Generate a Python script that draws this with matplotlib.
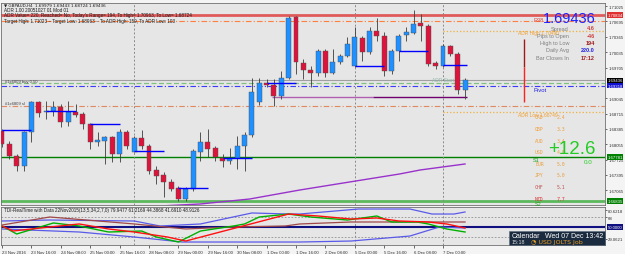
import matplotlib
matplotlib.use('Agg')
import matplotlib.pyplot as plt
from matplotlib.patches import Rectangle

plt.rcParams['font.family'] = ['Liberation Sans', 'DejaVu Sans']

# ---------------- data ----------------
opens  = [1.68340,1.68061,1.67803,1.67588,1.68319,1.68964,1.68749,1.68770,1.68856,1.68534,
          1.68749,1.68706,1.68491,1.68104,1.68125,1.68211,1.67846,1.68319,1.67889,1.68190,
          1.68018,1.67502,1.67394,1.67244,1.67115,1.66878,1.67093,1.67889,1.68104,1.67975,
          1.67760,1.67695,1.67760,1.68018,1.68254,1.68964,1.69372,1.69329,1.69093,1.69480,
          1.70791,1.69802,1.69652,1.69587,1.70060,1.69587,1.69824,1.69953,1.69738,1.70340,
          1.70039,1.70490,1.70383,1.69630,1.70060,1.70404,1.70447,1.70662,1.70598,1.69802,
          1.69738,1.70168,1.69996,1.69222]
highs  = [1.68383,1.68125,1.67846,1.68340,1.68985,1.68985,1.68985,1.68985,1.68921,1.68985,
          1.68921,1.68749,1.68512,1.68319,1.68233,1.68233,1.68383,1.68362,1.68233,1.68362,
          1.68061,1.67588,1.67459,1.67308,1.67158,1.67136,1.67953,1.68319,1.68383,1.68018,
          1.67846,1.67975,1.68233,1.68319,1.69480,1.69480,1.69458,1.69458,1.69630,1.70813,
          1.70813,1.69888,1.69738,1.70103,1.70103,1.70103,1.69996,1.70361,1.70576,1.70383,
          1.70576,1.70770,1.70469,1.70103,1.70426,1.70576,1.70942,1.70856,1.70641,1.69845,
          1.70211,1.70189,1.70039,1.69480]
lows   = [1.67996,1.67738,1.67480,1.67480,1.68104,1.68641,1.68598,1.68663,1.68426,1.68448,
          1.68641,1.68383,1.67953,1.68018,1.67631,1.67674,1.67674,1.67953,1.67889,1.67953,
          1.67416,1.67201,1.66921,1.67050,1.66835,1.66835,1.67050,1.67695,1.67781,1.67695,
          1.67566,1.67631,1.67523,1.67480,1.68211,1.68899,1.69286,1.68878,1.69028,1.69458,
          1.69566,1.69458,1.69286,1.69523,1.69501,1.69566,1.69781,1.69931,1.69716,1.69845,
          1.69996,1.70275,1.69523,1.69566,1.69845,1.70275,1.70426,1.70275,1.69738,1.69673,
          1.69716,1.69953,1.69136,1.69028]
closes = [1.68061,1.67803,1.67588,1.68319,1.68964,1.68727,1.68770,1.68856,1.68534,1.68749,
          1.68684,1.68491,1.68104,1.68147,1.68211,1.67846,1.68319,1.68018,1.68190,1.68018,
          1.67480,1.67373,1.67244,1.67093,1.66878,1.67093,1.67910,1.68104,1.67953,1.67781,
          1.67695,1.67760,1.68018,1.68254,1.69179,1.69372,1.69329,1.69093,1.69480,1.70770,
          1.69824,1.69652,1.69587,1.70060,1.69587,1.69824,1.69953,1.70211,1.70361,1.70039,
          1.70490,1.70383,1.69630,1.70060,1.70383,1.70469,1.70641,1.70598,1.69781,1.69738,
          1.70168,1.69996,1.69222,1.69436]

time_tick_idx = [0, 4, 8, 12, 16, 20, 24, 28, 32, 36, 40, 44, 48, 52, 56, 60]
time_labels = ["23 Nov 2016", "23 Nov 16:00", "24 Nov 08:00", "25 Nov 00:00", "25 Nov 16:00",
               "28 Nov 08:00", "29 Nov 00:00", "29 Nov 16:00", "30 Nov 08:00", "1 Dec 00:00",
               "1 Dec 16:00", "2 Dec 08:00", "5 Dec 00:00", "5 Dec 16:00", "6 Dec 08:00", "7 Dec 00:00"]
separator_idx = [18, 48, 60]

price_ticks = [1.71025, 1.70695, 1.70365, 1.70035, 1.69705, 1.69045, 1.68715,
               1.68385, 1.68055, 1.67725, 1.67395, 1.67065]

# daily open segments (start bar, price)
day_open_idx = [0, 6, 12, 18, 24, 30, 36, 48, 54, 60]
day_open_px = [1.68362, 1.68770, 1.68491, 1.67910, 1.67115, 1.67760, 1.69372, 1.69738, 1.70060, 1.69759]

# horizontal levels
adr_red = 1.70834
r3_level = 1.70705
adr_high = 1.70490
adr_low = 1.68749
bid = 1.69436
buy_level = 1.69372
pivot = 1.69318
sl_level = 1.68878
s1_level = 1.67781
s2_level = 1.66835
purple_level = 1.69071

# moving average knots
ma_idx = [21.5, 27, 33.7, 40.5, 47.3, 54.1, 56.9, 63]
ma_val = [1.66728, 1.66771, 1.66878, 1.67071, 1.67244, 1.67416, 1.67502, 1.67631]

# TDI sub-window
green_idx = [0, 2, 7, 10.5, 14.5, 19, 21, 24, 27, 31.5, 33, 35, 39, 42, 47, 51, 53, 56.5, 58, 60.5, 63]
green_val = [51.8, 37.3, 57.3, 51.8, 40.9, 42.7, 31.8, 22.7, 42.7, 51.8, 55.5, 68.2, 73.6, 68.2,
             62.7, 70.0, 59.1, 59.1, 55.5, 46.4, 40.9]
red_idx = [0, 1.5, 6.5, 10.5, 14.5, 18, 22.5, 25, 39, 43, 47.5, 51, 54, 58, 60.5, 63]
red_val = [51.8, 42.7, 50.0, 55.5, 46.4, 40.9, 31.8, 24.5, 73.6, 70.0, 64.5, 66.4, 60.9, 59.1, 55.5, 48.2]
upper_idx = [0, 6.5, 18, 21.5, 27, 34, 39, 40.5, 48.5, 55.5, 58.5, 61.5, 63]
upper_val = [60.9, 62.7, 60.9, 51.8, 55.5, 75.5, 73.6, 73.6, 82.7, 82.7, 73.6, 73.6, 77.3]
lower_idx = [0, 10.5, 18, 24.5, 40.5, 47.5, 55.5, 59.5, 63]
lower_val = [46.4, 40.9, 31.8, 22.7, 22.7, 24.5, 33.6, 50.0, 48.2]
base_idx = [0, 6.5, 18, 25, 31.5, 38.5, 40.5, 47.5, 58, 63]
base_val = [53.6, 68.2, 55.5, 46.4, 50.0, 51.8, 55.5, 59.1, 59.1, 59.1]

currencies = ["CAD", "GBP", "AUD", "USD", "EUR", "JPY", "CHF", "NZD"]
cur_vals = ["2.4", "3.3", "3.4", "4.0", "5.0", "5.0", "5.1", "7.7"]

info_labels = ["Spread", "Pips to Open", "High to Low", "Daily Avg", "Bar Closes In"]
info_values = ["4.6", "-46", "194", "220.0", "17:12"]

# ---------------- figure ----------------
W, H = 625, 255
fig = plt.figure(figsize=(6.25, 2.55), dpi=100)
fig.patch.set_facecolor('#f4f4f4')

def rect(x0, y0, x1, y1):
    return [x0 / W, 1 - y1 / H, (x1 - x0) / W, (y1 - y0) / H]

ax = fig.add_axes(rect(1.5, 4, 605, 206))
sub = fig.add_axes(rect(1.5, 208, 605, 246), sharex=ax)
for a in (ax, sub):
    a.set_facecolor('#e6e6e6')
    for s in a.spines.values():
        s.set_color('#707070')
        s.set_linewidth(0.6)

x_left = (1.5 - 2) / 7.35
x_right = (605 - 2) / 7.35
ax.set_xlim(x_left, x_right)
ax.set_ylim(1.66749, 1.71092)
sub.set_ylim(17.27, 86.36)

# levels
ax.axhline(adr_red, color='#e05a5a', lw=2.0, zorder=1)
ax.axhline(r3_level, color='#ff7f3f', lw=0.8, ls=(0, (5, 2, 1, 2)), zorder=1)
ax.axhline(bid, color='#a0a0a0', lw=0.8, zorder=1)
ax.axhline(buy_level, color='#80c080', lw=0.9, ls=(0, (4, 2)), zorder=1)
ax.axhline(pivot, color='#3a3aff', lw=0.8, ls=(0, (5, 2, 1, 2)), zorder=1)
ax.axhline(sl_level, color='#e08a60', lw=0.8, ls=(0, (5, 2, 1, 2)), zorder=1)
ax.axhline(s1_level, color='#008000', lw=1.0, zorder=1)
ax.axhline(s2_level, color='#5cb85c', lw=2.0, zorder=1)
ax.hlines([adr_high, adr_low], 60, x_right, color='#f0b040', lw=0.9, ls=':', zorder=1)
ax.hlines(purple_level, 36.8, 50.5, color='#b060b0', lw=1.0, zorder=2)
ax.hlines(purple_level, 50.5, 63.2, color='#700070', lw=1.0, zorder=2)

for si in separator_idx:
    ax.axvline(si, color='#8a8a8a', lw=0.7, ls=(0, (2, 2)), zorder=1)
    sub.axvline(si, color='#8a8a8a', lw=0.7, ls=(0, (2, 2)), zorder=1)

# MA
ax.plot(ma_idx, ma_val, color='#9932cc', lw=1.0, zorder=2)

# candles
for i, (o, h, l, c) in enumerate(zip(opens, highs, lows, closes)):
    ax.vlines(i, l, h, color='#3c3c3c', lw=0.6, zorder=3)
    bull = c >= o
    col = '#1e90ff' if bull else '#dc143c'
    hgt = max(abs(c - o), 0.00005)
    ax.bar(i, hgt, bottom=min(o, c), width=0.68, color=col, edgecolor='#505050',
           linewidth=0.3, zorder=4)

# daily open segments
for si, pv in zip(day_open_idx, day_open_px):
    ax.hlines(pv, si, min(si + 4, 63.3), color='#0000ff', lw=1.0, zorder=5)

# daily range bar
range_idx = (524 - 2) / 7.35
ax.vlines(range_idx, 1.69716, 1.70318, color='#a01818', lw=1.0, zorder=5)
ax.vlines(range_idx, 1.68964, 1.69716, color='#ff2020', lw=1.0, zorder=5)

# axis ticks
TL = 3.1
ax.yaxis.tick_right()
ax.set_yticks(price_ticks)
ax.set_yticklabels([f'{v:.5f}' for v in price_ticks])
ax.tick_params(axis='y', labelsize=TL, length=1.5, width=0.5, pad=0.8, colors='#303030')
ax.tick_params(axis='x', bottom=False, labelbottom=False)

sub.set_xticks(time_tick_idx)
sub.set_xticklabels(time_labels)
for lb in sub.get_xticklabels():
    lb.set_ha('left')
sub.tick_params(axis='x', labelsize=TL, length=2, width=0.5, pad=1.5, colors='#303030')
sub.yaxis.tick_right()
sub.set_yticks([80.6218, 68, 29.0621])
sub.set_yticklabels(['80.6218', '68', '29.0621'])
sub.tick_params(axis='y', labelsize=TL, length=1.5, width=0.5, pad=0.8, colors='#303030')

# label boxes on price axis
def box(a, val, txt, fc, tc='white'):
    a.text(1.004, val, txt, transform=a.get_yaxis_transform(), fontsize=TL, color=tc,
           va='center', ha='left', clip_on=False, zorder=10,
           bbox=dict(boxstyle='square,pad=0.12', fc=fc, ec='none'))

box(ax, adr_red, f'{adr_red:.5f}', '#e03030')
box(ax, bid, f'{bid:.5f}', '#000000')
box(ax, pivot, f'{pivot:.5f}', '#1010d0')
box(ax, s1_level, f'{s1_level:.5f}', '#008000')
box(ax, s2_level, f'{s2_level:.5f}', '#008000')

# TDI
sub.axhline(68, color='#909090', lw=0.6, ls=(0, (2, 2)))
sub.axhline(32, color='#909090', lw=0.6, ls=(0, (2, 2)))
sub.axhline(50, color='#101080', lw=1.5)
sub.plot(upper_idx, upper_val, color='#5a5aea', lw=0.9)
sub.plot(lower_idx, lower_val, color='#5a5aea', lw=0.9)
sub.plot(base_idx, base_val, color='#a04848', lw=0.9)
sub.plot(green_idx, green_val, color='#00b000', lw=1.0)
sub.plot(red_idx, red_val, color='#ff1010', lw=1.0)
box(sub, 50, '50.0000', '#101080')

# ---------------- overlay texts ----------------
ov = fig.add_axes([0, 0, 1, 1])
ov.set_xlim(0, W)
ov.set_ylim(H, 0)
ov.axis('off')
ov.patch.set_alpha(0)

hdr = dict(fontsize=3.3, color='#1a1a1a', va='center', ha='left')
ov.text(4, 5.5, "\u25bc GBPAUD,H4  1.69979 1.69443 1.68724 1.69436", family=['DejaVu Sans'], fontsize=3.0, color='#1a1a1a', va='center')
ov.text(4, 11, "ADR 1.00 20051027 01 Mod 01", **hdr)
ov.text(4, 15.5, "ADR Value= 220, Reached= No, Today's Range= 194, To High= 1.70963, To Low= 1.68724", **hdr)
ov.text(4, 21, "Target High: 1.71023 ~ Target Low: 1.68963 ~ To ADR High: 159, To ADR Low: 103", **hdr)
ov.text(5, 82, "#1x6809 buy 0.50", fontsize=3.0, color='#404040', va='center')
ov.text(5, 104, "#1x6809 sl", fontsize=3.0, color='#404040', va='center')

ov.text(533, 20, "R38", fontsize=4, color='#e04040', va='center')
ov.text(518, 34, "ADR High 1.70490", fontsize=3.5, color='#f0a030', va='center')
ov.text(432, 80.5, "ADR Start", fontsize=3.5, color='#90b8a8', va='center')
ov.text(533, 90.5, "Pivot", fontsize=4.2, color='#2020e0', va='center')
ov.text(518, 116, "ADR Low 1.68749", fontsize=3.5, color='#f0a030', va='center')

ov.text(596, 19, f'{bid:.5f}', fontsize=10.5, color='#2020ff', va='center', ha='right')
info_cols = ['#d04040', '#d04040', '#a02020', '#2020e0', '#a02020']
for k, (lb, vl, cc) in enumerate(zip(info_labels, info_values, info_cols)):
    yy = 29 + k * 7.3
    ov.text(569, yy, lb, fontsize=4.0, color='#808080', va='center', ha='right')
    ov.text(595, yy, vl, fontsize=4.0, color=cc, va='center', ha='right', weight='bold')

cur_cols = ['#f0a040', '#f0a040', '#f0a040', '#f0a040', '#e8a040', '#e8a040', '#c05050', '#d83030']
for k, (cn, cv, cc) in enumerate(zip(currencies, cur_vals, cur_cols)):
    yy = 118 + k * 11.6
    ov.text(535, yy, cn, fontsize=3.5, color=cc, va='center', family=['DejaVu Sans Mono'])
    ov.text(557, yy, cv, fontsize=3.5, color=cc, va='center', family=['DejaVu Sans Mono'])

ov.text(533, 161, "S1", fontsize=4, color='#20a020', va='center')
ov.text(535, 205, "S2", fontsize=4, color='#20a020', va='center')
ov.text(596, 150, "+12.6", fontsize=13.5, color='#22cc22', va='center', ha='right')
ov.text(592, 163, "0.0", fontsize=4.5, color='#22cc22', va='center', ha='right')

ov.text(4, 211, "TDI-RealTime with Data 22Nov2015(13,5,34,2,7,0) 79.9477 61.2169 44.3868 41.6910 48.9126",
        fontsize=3.3, color='#1a1a1a', va='center')

# calendar box
ov.add_patch(Rectangle((509, 232), 96, 14, fc='#1b2b3f', ec='#5a6a7a', lw=0.4))
ov.text(512, 236.5, "Calendar", fontsize=5, color='white', va='center')
ov.text(603, 236.5, "Wed 07 Dec 13:42", fontsize=5, color='white', va='center', ha='right')
ov.text(512, 243, "15:18", fontsize=3.8, color='#dddddd', va='center')
ov.text(531, 243, "\u25d4 USD JOLTS Job", fontsize=4.5, color='#f0a020', va='center', family=['DejaVu Sans'])

fig.savefig('out.png', dpi=100, facecolor=fig.get_facecolor())
